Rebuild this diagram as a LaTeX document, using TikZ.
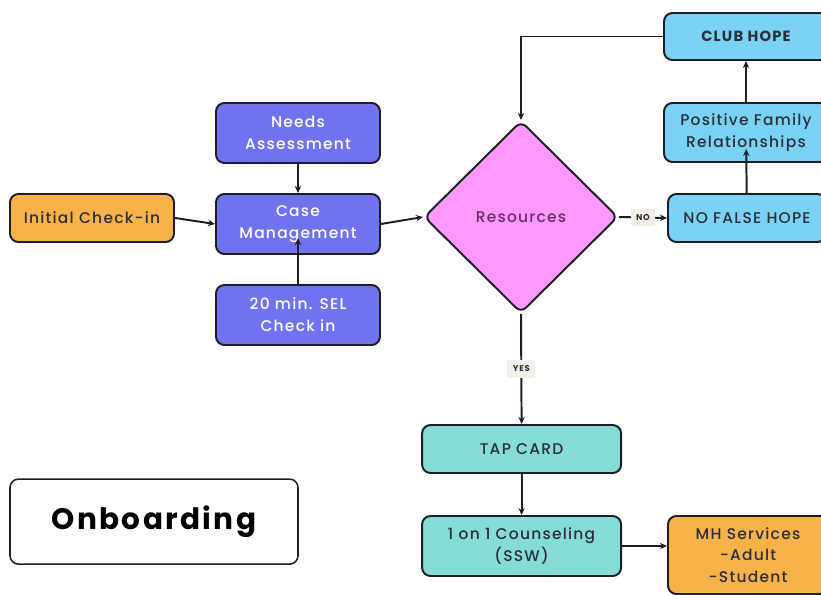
\documentclass[tikz,border=0pt]{standalone}
\usepackage{fontspec}
\setmainfont{Poppins}[LetterSpace=8, UprightFont={* Medium}, BoldFont={* Bold}]
\usepackage{tikz}
\usetikzlibrary{shapes.geometric,arrows.meta}

\definecolor{orangebox}{HTML}{F8B24A}
\definecolor{violetbox}{HTML}{7073F0}
\definecolor{skybox}{HTML}{7AD2F4}
\definecolor{tealbox}{HTML}{86DCD7}
\definecolor{pinkbox}{HTML}{FF99FF}
\definecolor{tagbg}{HTML}{F4F0E8}
\definecolor{edgecol}{HTML}{1E1E28}
\definecolor{textdark}{HTML}{2B2D3A}
\definecolor{textpurple}{HTML}{6A2C6A}

\begin{document}
\begin{tikzpicture}[
    box/.style={draw=edgecol, line width=1.4pt, rounded corners=6pt, align=center,
                inner sep=0pt, font=\fontsize{11}{15.5}\selectfont, text=textdark},
    orangestep/.style={box, fill=orangebox},
    violetstep/.style={box, fill=violetbox, text=white},
    skystep/.style={box, fill=skybox},
    tealstep/.style={box, fill=tealbox},
    decision/.style={diamond, draw=edgecol, line width=1.4pt, fill=pinkbox, rounded corners=5pt,
                inner sep=0pt, text=textpurple, font=\fontsize{11}{15.5}\selectfont},
    link/.style={-{Stealth[length=5pt,width=4.5pt]}, line width=1.4pt, draw=edgecol},
    tag/.style={fill=tagbg, inner sep=4pt, font=\bfseries\fontsize{6}{7}\selectfont, text=textdark}
  ]
  \clip (0,0) rectangle (20.525,-14.875);
  \fill[white] (0,0) rectangle (20.525,-14.875);

  % intake
  \node[orangestep, minimum width=4.1cm, minimum height=1.2cm] (init) at (2.3,-5.45) {Initial Check-in};
  \node[violetstep, minimum width=4.1cm, minimum height=1.5cm] (needs) at (7.45,-3.325) {Needs\\Assessment};
  \node[violetstep, minimum width=4.1cm, minimum height=1.5cm] (case) at (7.45,-5.6) {Case\\Management};
  \node[violetstep, minimum width=4.1cm, minimum height=1.5cm] (sel) at (7.45,-7.875) {20 min. SEL\\Check in};

  % decision
  \node[decision, minimum width=4.85cm, minimum height=4.8cm] (res) at (13.025,-5.425) {Resources};

  % no branch
  \node[skystep, minimum width=3.95cm, minimum height=1.2cm] (nofalse) at (18.675,-5.45) {NO FALSE HOPE};
  \node[skystep, minimum width=4.1cm, minimum height=1.475cm] (family) at (18.65,-3.3125) {Positive Family\\Relationships};
  \node[skystep, minimum width=4.1cm, minimum height=1.175cm, font=\bfseries\fontsize{10.5}{12}\selectfont] (club) at (18.65,-0.9125) {CLUB HOPE};

  % yes branch
  \node[tealstep, minimum width=4.975cm, minimum height=1.2cm] (tap) at (13.04,-11.225) {TAP CARD};
  \node[tealstep, minimum width=4.975cm, minimum height=1.5cm] (couns) at (13.04,-13.65) {1 on 1 Counseling\\(SSW)};
  \node[orangestep, minimum width=4.0cm, minimum height=1.95cm] (mh) at (18.7,-13.875) {MH Services\\-Adult\\-Student};

  % title
  \node[box, fill=white, line width=1.1pt, minimum width=7.2cm, minimum height=2.125cm,
        text=black, font=\bfseries\fontsize{21}{24}\selectfont] (title) at (3.85,-13.04) {Onboarding};

  % arrows
  \draw[link] (init.east) -- (case.west);
  \draw[link] (needs) -- (case);
  \draw[link, shorten >=-12pt] (sel) -- (case);
  \draw[link] (case.east) -- (res.west);
  \draw[link] (res.east) -- node[tag] {NO} (nofalse.west);
  \draw[link, shorten >=-10pt] (nofalse) -- (family);
  \draw[link] (family) -- (club);
  \draw[link] (club.west) -| (res.north);
  \draw[link] (res.south) -- node[tag] {YES} (tap.north);
  \draw[link] (tap) -- (couns);
  \draw[link] (couns.east) -- (mh.west |- couns.east);
\end{tikzpicture}
\end{document}
